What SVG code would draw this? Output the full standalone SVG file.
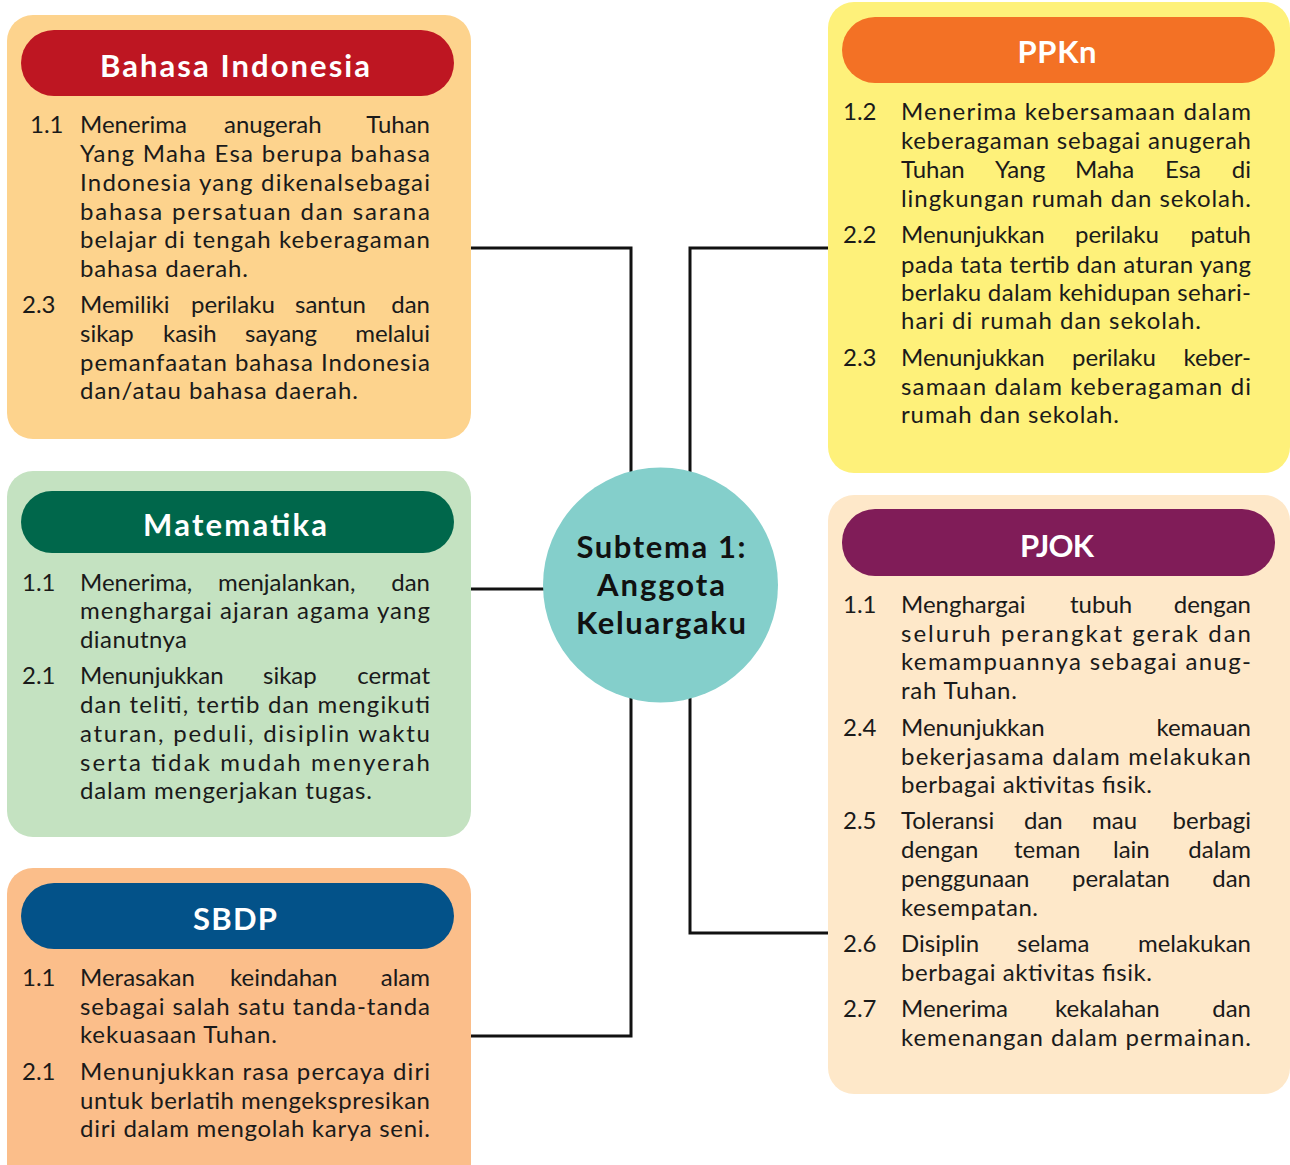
<svg xmlns="http://www.w3.org/2000/svg" width="1290" height="1165" viewBox="0 0 1290 1165">
<style>
.t{font-family:Lato,"Open Sans",sans-serif;font-size:24px;fill:#1a1a1a}
.e{text-anchor:end}
.h{font-family:Lato,"Open Sans",sans-serif;font-size:31px;font-weight:bold;fill:#ffffff;text-anchor:middle}
.c{font-family:Lato,"Open Sans",sans-serif;font-size:31px;font-weight:bold;fill:#111111;text-anchor:middle}
.ln{fill:none;stroke:#111111;stroke-width:3}
</style>
<rect width="1290" height="1165" fill="#ffffff"/>
<g id="connectors">
<polyline class="ln" points="471,248 631,248 631,1036 471,1036"/>
<line class="ln" x1="471" y1="589" x2="560" y2="589"/>
<polyline class="ln" points="828,248 690,248 690,933 828,933"/>
</g>
<g id="center">
<circle cx="660.5" cy="585" r="117.5" fill="#84CFCB"/>
<text class="c" x="661" y="558" textLength="169">Subtema 1:</text>
<text class="c" x="661" y="596" textLength="128">Anggota</text>
<text class="c" x="661" y="634" textLength="170">Keluargaku</text>
</g>
<g id="bahasa-indonesia">
<rect x="7" y="15" width="464" height="424" rx="26" fill="#FDD38D"/>
<rect x="21" y="30" width="433" height="66" rx="33" fill="#BE1622"/>
<text class="h" x="235" y="77" textLength="270">Bahasa Indonesia</text>
<text class="t" x="30" y="133">1.1</text>
<text class="t" x="80" y="133">Menerima</text>
<text class="t" x="224" y="133">anugerah</text>
<text class="t e" x="430" y="133">Tuhan</text>
<text class="t" x="80" y="162" textLength="350">Yang Maha Esa berupa bahasa</text>
<text class="t" x="80" y="191" textLength="350">Indonesia yang dikenalsebagai</text>
<text class="t" x="80" y="220" textLength="350">bahasa persatuan dan sarana</text>
<text class="t" x="80" y="248" textLength="350">belajar di tengah keberagaman</text>
<text class="t" x="80" y="277" textLength="168">bahasa daerah.</text>
<text class="t" x="22" y="313">2.3</text>
<text class="t" x="80" y="313">Memiliki</text>
<text class="t" x="191" y="313">perilaku</text>
<text class="t" x="295" y="313">santun</text>
<text class="t e" x="430" y="313">dan</text>
<text class="t" x="80" y="342">sikap</text>
<text class="t" x="163" y="342">kasih</text>
<text class="t" x="245" y="342">sayang</text>
<text class="t e" x="430" y="342">melalui</text>
<text class="t" x="80" y="371" textLength="350">pemanfaatan bahasa Indonesia</text>
<text class="t" x="80" y="399" textLength="278">dan/atau bahasa daerah.</text>
</g>
<g id="matematika">
<rect x="7" y="471" width="464" height="366" rx="26" fill="#C4E2C1"/>
<rect x="21" y="491" width="433" height="62" rx="31" fill="#00674B"/>
<text class="h" x="235" y="536" textLength="184">Matematika</text>
<text class="t" x="22" y="591">1.1</text>
<text class="t" x="80" y="591">Menerima,</text>
<text class="t" x="218" y="591">menjalankan,</text>
<text class="t e" x="430" y="591">dan</text>
<text class="t" x="80" y="619" textLength="350">menghargai ajaran agama yang</text>
<text class="t" x="80" y="648" textLength="107">dianutnya</text>
<text class="t" x="22" y="684">2.1</text>
<text class="t" x="80" y="684">Menunjukkan</text>
<text class="t" x="263" y="684">sikap</text>
<text class="t e" x="430" y="684">cermat</text>
<text class="t" x="80" y="713" textLength="350">dan teliti, tertib dan mengikuti</text>
<text class="t" x="80" y="742" textLength="350">aturan, peduli, disiplin waktu</text>
<text class="t" x="80" y="771" textLength="350">serta tidak mudah menyerah</text>
<text class="t" x="80" y="799" textLength="292">dalam mengerjakan tugas.</text>
</g>
<g id="sbdp">
<rect x="7" y="868" width="464" height="330" rx="26" fill="#FBBE8A"/>
<rect x="21" y="883" width="433" height="66" rx="33" fill="#035289"/>
<text class="h" x="235" y="930" textLength="84">SBDP</text>
<text class="t" x="22" y="986">1.1</text>
<text class="t" x="80" y="986">Merasakan</text>
<text class="t" x="230" y="986">keindahan</text>
<text class="t e" x="430" y="986">alam</text>
<text class="t" x="80" y="1015" textLength="350">sebagai salah satu tanda-tanda</text>
<text class="t" x="80" y="1043" textLength="197">kekuasaan Tuhan.</text>
<text class="t" x="22" y="1080">2.1</text>
<text class="t" x="80" y="1080" textLength="350">Menunjukkan rasa percaya diri</text>
<text class="t" x="80" y="1109" textLength="350">untuk berlatih mengekspresikan</text>
<text class="t" x="80" y="1137" textLength="350">diri dalam mengolah karya seni.</text>
</g>
<g id="ppkn">
<rect x="828" y="2" width="462" height="471" rx="26" fill="#FEF17A"/>
<rect x="842" y="17" width="433" height="66" rx="33" fill="#F37125"/>
<text class="h" x="1057" y="63" textLength="79">PPKn</text>
<text class="t" x="843" y="120">1.2</text>
<text class="t" x="901" y="120" textLength="350">Menerima kebersamaan dalam</text>
<text class="t" x="901" y="149" textLength="350">keberagaman sebagai anugerah</text>
<text class="t" x="901" y="178">Tuhan</text>
<text class="t" x="995" y="178">Yang</text>
<text class="t" x="1075" y="178">Maha</text>
<text class="t" x="1165" y="178">Esa</text>
<text class="t e" x="1251" y="178">di</text>
<text class="t" x="901" y="207" textLength="350">lingkungan rumah dan sekolah.</text>
<text class="t" x="843" y="243">2.2</text>
<text class="t" x="901" y="243">Menunjukkan</text>
<text class="t" x="1075" y="243">perilaku</text>
<text class="t e" x="1251" y="243">patuh</text>
<text class="t" x="901" y="273" textLength="350">pada tata tertib dan aturan yang</text>
<text class="t" x="901" y="301" textLength="350">berlaku dalam kehidupan sehari-</text>
<text class="t" x="901" y="329" textLength="300">hari di rumah dan sekolah.</text>
<text class="t" x="843" y="366">2.3</text>
<text class="t" x="901" y="366">Menunjukkan</text>
<text class="t" x="1072" y="366">perilaku</text>
<text class="t e" x="1251" y="366">keber-</text>
<text class="t" x="901" y="395" textLength="350">samaan dalam keberagaman di</text>
<text class="t" x="901" y="423" textLength="218">rumah dan sekolah.</text>
</g>
<g id="pjok">
<rect x="828" y="495" width="462" height="599" rx="26" fill="#FEE8C9"/>
<rect x="842" y="509" width="433" height="67" rx="33" fill="#801C58"/>
<text class="h" x="1057" y="557" textLength="74">PJOK</text>
<text class="t" x="843" y="613">1.1</text>
<text class="t" x="901" y="613">Menghargai</text>
<text class="t" x="1070" y="613">tubuh</text>
<text class="t e" x="1251" y="613">dengan</text>
<text class="t" x="901" y="642" textLength="350">seluruh perangkat gerak dan</text>
<text class="t" x="901" y="670" textLength="350">kemampuannya sebagai anug-</text>
<text class="t" x="901" y="699" textLength="116">rah Tuhan.</text>
<text class="t" x="843" y="736">2.4</text>
<text class="t" x="901" y="736">Menunjukkan</text>
<text class="t e" x="1251" y="736">kemauan</text>
<text class="t" x="901" y="765" textLength="350">bekerjasama dalam melakukan</text>
<text class="t" x="901" y="793" textLength="251">berbagai aktivitas fisik.</text>
<text class="t" x="843" y="829">2.5</text>
<text class="t" x="901" y="829">Toleransi</text>
<text class="t" x="1024" y="829">dan</text>
<text class="t" x="1092" y="829">mau</text>
<text class="t e" x="1251" y="829">berbagi</text>
<text class="t" x="901" y="858">dengan</text>
<text class="t" x="1014" y="858">teman</text>
<text class="t" x="1113" y="858">lain</text>
<text class="t e" x="1251" y="858">dalam</text>
<text class="t" x="901" y="887">penggunaan</text>
<text class="t" x="1072" y="887">peralatan</text>
<text class="t e" x="1251" y="887">dan</text>
<text class="t" x="901" y="916" textLength="137">kesempatan.</text>
<text class="t" x="843" y="952">2.6</text>
<text class="t" x="901" y="952">Disiplin</text>
<text class="t" x="1017" y="952">selama</text>
<text class="t e" x="1251" y="952">melakukan</text>
<text class="t" x="901" y="981" textLength="251">berbagai aktivitas fisik.</text>
<text class="t" x="843" y="1017">2.7</text>
<text class="t" x="901" y="1017">Menerima</text>
<text class="t" x="1055" y="1017">kekalahan</text>
<text class="t e" x="1251" y="1017">dan</text>
<text class="t" x="901" y="1046" textLength="350">kemenangan dalam permainan.</text>
</g>
</svg>
